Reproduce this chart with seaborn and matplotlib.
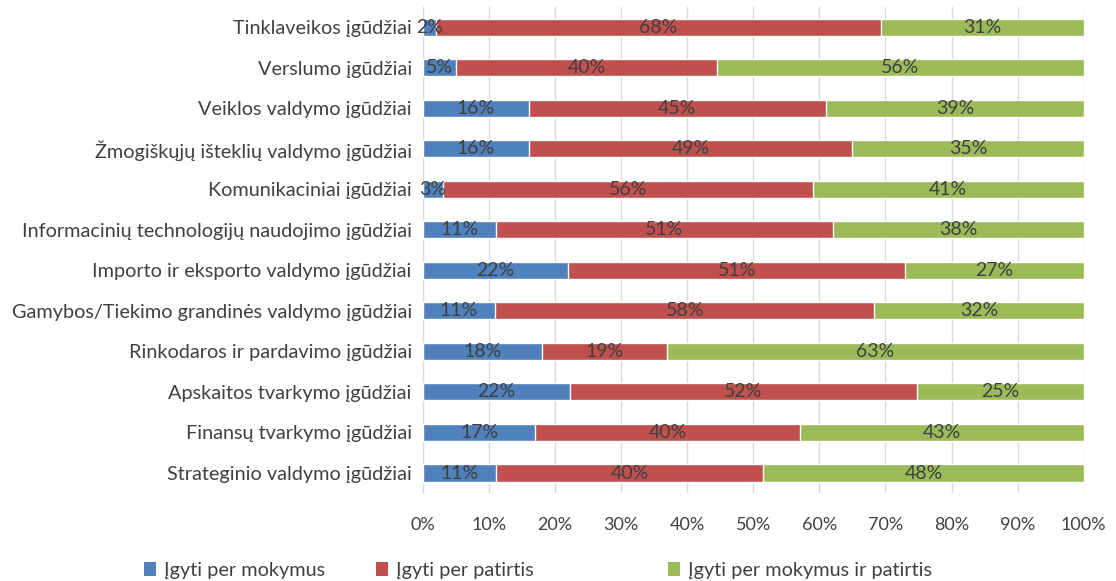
import numpy as np
import pandas as pd
import matplotlib
matplotlib.use("Agg")
import matplotlib.pyplot as plt
import seaborn as sns
from matplotlib.patches import Patch

# --- Data (percent, as shown on the chart) ---
categories = [
    "Tinklaveikos įgūdžiai",
    "Verslumo įgūdžiai",
    "Veiklos valdymo įgūdžiai",
    "Žmogiškųjų išteklių valdymo įgūdžiai",
    "Komunikaciniai įgūdžiai",
    "Informacinių technologijų naudojimo įgūdžiai",
    "Importo ir eksporto valdymo įgūdžiai",
    "Gamybos/Tiekimo grandinės valdymo įgūdžiai",
    "Rinkodaros ir pardavimo įgūdžiai",
    "Apskaitos tvarkymo įgūdžiai",
    "Finansų tvarkymo įgūdžiai",
    "Strateginio valdymo įgūdžiai",
]
per_mokymus = [2, 5, 16, 16, 3, 11, 22, 11, 18, 22, 17, 11]
per_patirtis = [68, 40, 45, 49, 56, 51, 51, 58, 19, 52, 40, 40]
abu = [31, 56, 39, 35, 41, 38, 27, 32, 63, 25, 43, 48]
series_names = ["Įgyti per mokymus", "Įgyti per patirtis", "Įgyti per mokymus ir patirtis"]

COLORS = ["#4F81BD", "#C0504D", "#9BBB59"]
TEXT = "#404040"

df = pd.DataFrame({"cat": categories, "a": per_mokymus, "b": per_patirtis, "c": abu})
total = df[["a", "b", "c"]].sum(axis=1)
# shares of the bar (rounded labels don't always sum to 100)
df["sa"] = df["a"] / total
df["sb"] = df["b"] / total
df["sc"] = df["c"] / total
df["cum_b"] = df["sa"] + df["sb"]
df["cum_c"] = df["cum_b"] + df["sc"]

sns.set_style("white")
plt.rcParams["font.family"] = ["Lato", "DejaVu Sans"]

fig = plt.figure(figsize=(11.16, 5.81), dpi=100)
ax = fig.add_axes([0.379, 0.151, 0.592, 0.837])

# stacked bars by overlaying cumulative totals
w = 0.42
sns.barplot(data=df, x="cum_c", y="cat", color=COLORS[2], width=w, saturation=1, ax=ax, zorder=2)
sns.barplot(data=df, x="cum_b", y="cat", color=COLORS[1], width=w, saturation=1, ax=ax, zorder=3)
sns.barplot(data=df, x="sa", y="cat", color=COLORS[0], width=w, saturation=1, ax=ax, zorder=4)

# segment labels
for i, row in df.iterrows():
    starts = [0, row["sa"], row["cum_b"]]
    widths = [row["sa"], row["sb"], row["sc"]]
    vals = [row["a"], row["b"], row["c"]]
    for s, wd, v in zip(starts, widths, vals):
        ax.text(s + wd / 2, i, f"{v}%", ha="center", va="center",
                fontsize=14, color=TEXT, zorder=5)

ax.set_xlim(0, 1)
ax.set_ylim(len(categories) - 0.5, -0.5)
ax.set_xticks(np.linspace(0, 1, 11))
ax.set_xticklabels([f"{int(t)}%" for t in np.linspace(0, 100, 11)])
ax.set_xlabel("")
ax.set_ylabel("")
ax.tick_params(axis="x", labelsize=13, colors=TEXT, length=0, pad=17)
ax.tick_params(axis="y", labelsize=14.3, colors=TEXT, length=0, pad=8)
ax.grid(axis="x", color="#D9D9D9", linewidth=1, zorder=0)
ax.set_axisbelow(True)
for side in ["top", "right", "bottom"]:
    ax.spines[side].set_visible(False)
ax.spines["left"].set_color("#D9D9D9")

# legend entries placed individually (Excel-style spacing)
legend_x = [0.129, 0.337, 0.599]
for h, name, lx in zip(COLORS, series_names, legend_x):
    fig.legend([Patch(facecolor=h, edgecolor="none")], [name], loc="center left",
               bbox_to_anchor=(lx, 0.018), frameon=False, fontsize=14.3,
               labelcolor=TEXT, handlelength=0.6, handleheight=0.75,
               handletextpad=0.4, borderpad=0, borderaxespad=0)

fig.savefig("out.png", dpi=100)
